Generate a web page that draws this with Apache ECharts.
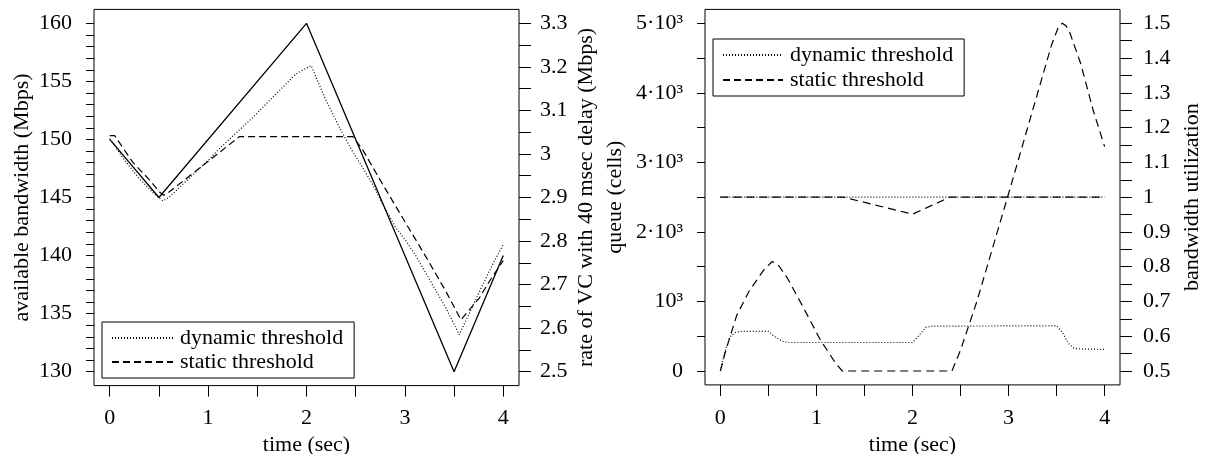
<!DOCTYPE html>
<html><head><meta charset="utf-8">
<script src="https://cdn.jsdelivr.net/npm/echarts@6/dist/echarts.min.js"></script>
<style>html,body{margin:0;padding:0;background:#fff}#c{width:1205px;height:454px}</style>
</head><body><div id="c"></div>
<script>
// ---------- data: left panel ----------
const bwTime = [0, 0.5, 2, 3.5, 4];
const bwValue = [150, 145, 160, 130, 140];
const dynRateTime = [0,0.05,0.135,0.305,0.44,0.54,0.6,1.0,1.117,1.455,1.69,1.895,2.047,2.098,2.2,2.335,2.454,2.57,2.673,2.775,2.91,3.012,3.114,3.418,3.553,3.75,3.9,4];
const dynRateValue = [3.035,3.02,2.99,2.942,2.911,2.892,2.9,2.985,3.013,3.084,3.138,3.184,3.203,3.176,3.122,3.061,3.011,2.969,2.93,2.884,2.83,2.8,2.765,2.646,2.585,2.68,2.75,2.792];
const staRateTime = [0,0.05,0.237,0.406,0.508,0.55,0.6,1.32,2.47,2.57,2.775,3.012,3.198,3.418,3.57,3.756,3.858,4];
const staRateValue = [3.042,3.042,2.98,2.94,2.912,2.905,2.912,3.04,3.04,3.01,2.93,2.84,2.77,2.684,2.619,2.669,2.707,2.755];
// ---------- data: right panel ----------
const dynQueueTime = [0,0.04,0.1,0.15,0.2,0.5,0.56,0.64,0.7,2.0,2.06,2.14,2.2,3.5,3.56,3.62,3.68,3.75,4];
const dynQueueValue = [0,250,490,550,570,570,500,430,410,410,500,630,645,650,560,400,330,315,312];
const staQueueTime = [0,0.05,0.1,0.17,0.3,0.45,0.54,0.6,0.7,0.83,1.04,1.2,1.27,2.41,2.5,2.67,3.0,3.23,3.45,3.52,3.56,3.6,3.64,3.75,3.88,4];
const staQueueValue = [0,260,490,800,1150,1450,1575,1530,1330,1000,450,110,0,0,300,1000,2550,3650,4700,4950,5000,4960,4856,4425,3753,3226];
const dynUtilTime = [0, 4];
const dynUtilValue = [1, 1];
const staUtilTime = [0, 1.28, 2.0, 2.39, 4];
const staUtilValue = [1, 1, 0.951, 1, 1];
// ---------- ticks & labels ----------
const xTickValues = [0, 0.5, 1, 1.5, 2, 2.5, 3, 3.5, 4];
const xLabelValues = [0, 1, 2, 3, 4];
const bwLabelValues = [130, 135, 140, 145, 150, 155, 160];
const rateLabelValues = [2.5, 2.6, 2.7, 2.8, 2.9, 3, 3.1, 3.2, 3.3];
const queueLabelValues = [0, 1000, 2000, 3000, 4000, 5000];
const queueLabelText = ['0', '10³', '2·10³', '3·10³', '4·10³', '5·10³'];
const utilLabelValues = [0.5, 0.6, 0.7, 0.8, 0.9, 1, 1.1, 1.2, 1.3, 1.4, 1.5];
const seriesNames = ['dynamic threshold', 'static threshold'];
const xName = 'time (sec)';
const leftYName = 'available bandwidth (Mbps)';
const leftY2Name = 'rate of VC with 40 msec delay (Mbps)';
const rightYName = 'queue (cells)';
const rightY2Name = 'bandwidth utilization';

const zip = (t, v) => t.map((x, i) => [x, v[i]]);
const range = (a, b, s) => { const r = []; const n = Math.round((b - a) / s); for (let i = 0; i <= n; i++) r.push(+(a + i * s).toFixed(6)); return r; };
const FONT = 'Liberation Serif';
const txt = {color: '#000', fontSize: 22, fontFamily: FONT};
const noLine = {show: false, onZero: false};
const tick = (len, vals) => ({show: true, inside: false, length: len, customValues: vals, lineStyle: {color: '#000', width: 1}});
const lab = (margin, vals, fmt) => Object.assign({show: true, margin: margin, customValues: vals, formatter: fmt}, txt);
const fmtNum = v => String(+(+v).toFixed(2));

// axis ranges extend 4% beyond data range (frame)
function xAxisFrame(gi) {
  return {type: 'value', gridIndex: gi, min: -0.16, max: 4.16,
    axisLine: noLine, splitLine: {show: false}, axisTick: tick(11, xTickValues),
    axisLabel: lab(22, xLabelValues, fmtNum),
    name: xName, nameLocation: 'middle', nameGap: 46, nameTextStyle: txt};
}

const DOT = [1, 2];
const option = {
  animation: false,
  backgroundColor: '#fff',
  textStyle: {fontFamily: FONT},
  grid: [
    {left: 94, top: 9.4, width: 425, height: 376.2, show: true, borderColor: '#000', borderWidth: 1, backgroundColor: 'transparent', containLabel: false, outerBoundsMode: 'none'},
    {left: 705, top: 9.4, width: 415, height: 375.5, show: true, borderColor: '#000', borderWidth: 1, backgroundColor: 'transparent', containLabel: false, outerBoundsMode: 'none'}
  ],
  xAxis: [xAxisFrame(0), xAxisFrame(1)],
  yAxis: [
    {type: 'value', gridIndex: 0, position: 'left', min: 128.8, max: 161.2,
      axisLine: noLine, splitLine: {show: false}, axisTick: tick(8, range(130, 160, 1)),
      axisLabel: lab(22, bwLabelValues, fmtNum),
      name: leftYName, nameLocation: 'middle', nameGap: 61, nameRotate: 90, nameTextStyle: txt},
    {type: 'value', gridIndex: 0, position: 'right', min: 2.468, max: 3.332,
      axisLine: noLine, splitLine: {show: false}, axisTick: tick(12, range(2.5, 3.3, 0.05)),
      axisLabel: lab(21, rateLabelValues, fmtNum),
      name: leftY2Name, nameLocation: 'middle', nameGap: 56, nameRotate: 90, nameTextStyle: txt},
    {type: 'value', gridIndex: 1, position: 'left', min: -200, max: 5200,
      axisLine: noLine, splitLine: {show: false}, axisTick: tick(8, range(0, 5000, 500)),
      axisLabel: lab(22, queueLabelValues, v => queueLabelText[queueLabelValues.indexOf(Math.round(+v))] || ''),
      name: rightYName, nameLocation: 'middle', nameGap: 79, nameRotate: 90, nameTextStyle: txt},
    {type: 'value', gridIndex: 1, position: 'right', min: 0.46, max: 1.54,
      axisLine: noLine, splitLine: {show: false}, axisTick: tick(12, range(0.5, 1.5, 0.05)),
      axisLabel: lab(23, utilLabelValues, fmtNum),
      name: rightY2Name, nameLocation: 'middle', nameGap: 61, nameRotate: 90, nameTextStyle: txt}
  ],
  legend: [
    {data: seriesNames, left: 102, top: 322, orient: 'vertical', itemWidth: 61, itemHeight: 14, itemGap: 2,
      padding: [5, 11, 5, 9], borderColor: '#000', borderWidth: 1, backgroundColor: '#fff',
      itemStyle: {opacity: 0}, textStyle: Object.assign({lineHeight: 22, padding: [0,0,0,2]}, txt), selectedMode: false},
    {data: seriesNames, left: 713, top: 39, orient: 'vertical', itemWidth: 60, itemHeight: 14, itemGap: 3,
      padding: [5, 11, 5, 9], borderColor: '#000', borderWidth: 1, backgroundColor: '#fff',
      itemStyle: {opacity: 0}, textStyle: Object.assign({lineHeight: 22, padding: [0,0,0,2]}, txt), selectedMode: false}
  ],
  series: [
    {name: 'available bandwidth', type: 'line', xAxisIndex: 0, yAxisIndex: 0, data: zip(bwTime, bwValue),
      symbol: 'none', lineStyle: {color: '#000', width: 1.3, type: 'solid'}},
    {name: seriesNames[0], type: 'line', xAxisIndex: 0, yAxisIndex: 1, data: zip(dynRateTime, dynRateValue),
      symbol: 'none', lineStyle: {color: '#000', width: 1.2, type: DOT}},
    {name: seriesNames[1], type: 'line', xAxisIndex: 0, yAxisIndex: 1, data: zip(staRateTime, staRateValue),
      symbol: 'none', lineStyle: {color: '#000', width: 1.2, type: [7, 4]}},
    {name: seriesNames[0], type: 'line', xAxisIndex: 1, yAxisIndex: 2, data: zip(dynQueueTime, dynQueueValue),
      symbol: 'none', lineStyle: {color: '#000', width: 1.2, type: DOT}},
    {name: seriesNames[1], type: 'line', xAxisIndex: 1, yAxisIndex: 2, data: zip(staQueueTime, staQueueValue),
      symbol: 'none', lineStyle: {color: '#000', width: 1.2, type: [8, 5]}},
    {name: seriesNames[0], type: 'line', xAxisIndex: 1, yAxisIndex: 3, data: zip(dynUtilTime, dynUtilValue),
      symbol: 'none', lineStyle: {color: '#000', width: 1.2, type: DOT}},
    {name: seriesNames[1], type: 'line', xAxisIndex: 1, yAxisIndex: 3, data: zip(staUtilTime, staUtilValue),
      symbol: 'none', lineStyle: {color: '#000', width: 1.2, type: [8, 5]}}
  ]
};
const chart = echarts.init(document.getElementById('c'), null, {renderer: 'canvas'});
chart.setOption(option);
</script>
</body></html>
